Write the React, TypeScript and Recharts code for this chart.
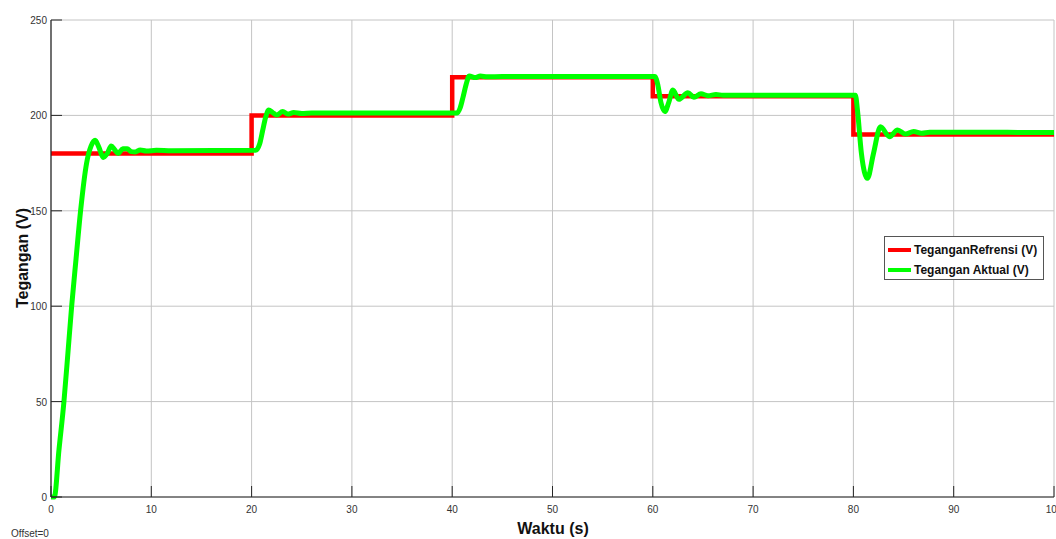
import React from "react";
import {
  LineChart,
  Line,
  XAxis,
  YAxis,
  CartesianGrid,
} from "recharts";

const xTicks = [0, 10, 20, 30, 40, 50, 60, 70, 80, 90, 100];
const yTicks = [0, 50, 100, 150, 200, 250];

const refTimes = [0, 20, 20, 40, 40, 60, 60, 80, 80, 100];
const refValues = [180, 180, 200, 200, 220, 220, 210, 210, 190, 190];

const actTimes = [
  0, 0.33, 0.8, 1.29, 1.68, 2.06, 2.5, 2.95, 3.55, 4.0, 4.4, 4.8, 5.2, 5.6, 6.0,
  6.35, 6.7, 7.15, 7.6, 8.0, 8.4, 8.9, 9.5, 10.5, 12, 20.4, 20.8, 21.1, 21.4,
  21.7, 22.1, 22.5, 23.1, 23.6, 24.2, 25, 26, 40.5, 40.8, 41.1, 41.4, 41.7,
  42.3, 42.8, 43.5, 45, 60.2, 60.5, 60.8, 61.2, 61.6, 62.0, 62.6, 63.5, 64.1,
  64.8, 65.5, 66.3, 67, 80.2, 80.4, 80.8, 81.4, 82.0, 82.7, 83.6, 84.4, 85.2,
  86.0, 86.8, 87.6, 100,
];
const actValues = [
  0, 0, 25, 50, 75, 100, 125, 150, 175, 184, 187, 183, 178, 180, 184, 182, 180,
  182.5, 182.5, 181, 180.8, 181.9, 181.3, 181.7, 181.5, 181.7, 185, 192, 199,
  202.8, 201.5, 200.2, 202, 200.7, 201.5, 201, 201.3, 201.3, 204, 210, 216.5,
  220.6, 219.8, 220.6, 220.2, 220.4, 220.4, 216, 207, 202, 207, 213.3, 208.4,
  211.9, 209.5, 211.3, 210.3, 210.9, 210.6, 210.6, 203, 180, 167, 180, 194,
  188.8, 192.3, 190.2, 191.6, 190.7, 191.2, 191,
];

const seriesNames = ["TeganganRefrensi (V)", "Tegangan Aktual (V)"];
const seriesColors = ["#ff0000", "#00ff00"];

const refData = refTimes.map((t, i) => ({ t, v: refValues[i] }));
const actData = actTimes.map((t, i) => ({ t, v: actValues[i] }));

const FONT = "'Liberation Sans', Arial, sans-serif";

const BottomTick = (props: any) => {
  const { x, y, payload } = props;
  return (
    <g>
      <line x1={x} y1={y} x2={x} y2={y - 11} stroke="#262626" strokeWidth={1} />
      <text x={x} y={y + 16} textAnchor="middle" fontSize={10} fontFamily={FONT} fill="#333">
        {payload.value}
      </text>
    </g>
  );
};

const TopTick = (props: any) => {
  const { x, y } = props;
  return <line x1={x} y1={y} x2={x} y2={y + 11} stroke="#262626" strokeWidth={1} />;
};

const LeftTick = (props: any) => {
  const { x, y, payload } = props;
  return (
    <g>
      <line x1={x} y1={y} x2={x + 11} y2={y} stroke="#262626" strokeWidth={1} />
      <text x={x - 4} y={y + 4} textAnchor="end" fontSize={10} fontFamily={FONT} fill="#333">
        {payload.value}
      </text>
    </g>
  );
};

const RightTick = (props: any) => {
  const { x, y } = props;
  return <line x1={x} y1={y} x2={x - 11} y2={y} stroke="#262626" strokeWidth={1} />;
};

const LegendBox = () => (
  <div
    style={{
      position: "absolute",
      left: 884,
      top: 236,
      width: 160,
      height: 44,
      background: "#fff",
      border: "1px solid #555",
      fontFamily: FONT,
      fontWeight: "bold",
      fontSize: 12,
      color: "#111",
      boxSizing: "border-box",
      padding: "4px 0 0 3px",
    }}
  >
    {seriesNames.map((n, i) => (
      <div key={n} style={{ display: "flex", alignItems: "center", height: 17, marginBottom: 3 }}>
        <div style={{ width: 23, height: 4, background: seriesColors[i], marginRight: 3 }} />
        <span>{n}</span>
      </div>
    ))}
  </div>
);

export default function App() {
  return (
    <div style={{ position: "absolute", left: 0, top: 0, width: 1056, height: 539, background: "#fff" }}>
      <LineChart
        width={1056}
        height={539}
        margin={{ top: 20, right: 2, bottom: 0, left: 0 }}
      >
        <CartesianGrid stroke="#c4c4c4" strokeWidth={1} />
        <XAxis
          xAxisId={0}
          dataKey="t"
          type="number"
          domain={[0, 100]}
          ticks={xTicks}
          allowDataOverflow
          height={42}
          tickSize={0}
          tickMargin={0}
          tickLine={false}
          axisLine={{ stroke: "#262626", strokeWidth: 1.2 }}
          tick={(p: any) => <BottomTick {...p} />}
          interval={0}
        />
        <XAxis
          xAxisId="top"
          orientation="top"
          dataKey="t"
          type="number"
          domain={[0, 100]}
          ticks={xTicks}
          height={0}
          tickSize={0}
          tickMargin={0}
          tickLine={false}
          axisLine={{ stroke: "#8a8a8a", strokeWidth: 2 }}
          tick={(p: any) => <TopTick {...p} />}
          interval={0}
        />
        <YAxis
          yAxisId={0}
          type="number"
          domain={[0, 250]}
          ticks={yTicks}
          width={51}
          tickSize={0}
          tickMargin={0}
          tickLine={false}
          axisLine={{ stroke: "#262626", strokeWidth: 1.2 }}
          tick={(p: any) => <LeftTick {...p} />}
          interval={0}
        />
        <YAxis
          yAxisId="right"
          orientation="right"
          type="number"
          domain={[0, 250]}
          ticks={yTicks}
          width={0}
          tickSize={0}
          tickMargin={0}
          tickLine={false}
          axisLine={{ stroke: "#262626", strokeWidth: 1.2 }}
          tick={(p: any) => <RightTick {...p} />}
          interval={0}
        />
        <Line
          data={refData}
          dataKey="v"
          name={seriesNames[0]}
          type="linear"
          stroke={seriesColors[0]}
          strokeWidth={4.5}
          dot={false}
          activeDot={false}
          isAnimationActive={false}
        />
        <Line
          data={actData}
          dataKey="v"
          name={seriesNames[1]}
          type="monotone"
          stroke={seriesColors[1]}
          strokeWidth={5}
          dot={false}
          activeDot={false}
          isAnimationActive={false}
        />
      </LineChart>
      <LegendBox />
      <svg
        width={1056}
        height={539}
        style={{ position: "absolute", left: 0, top: 0, pointerEvents: "none" }}
      >
        <text
          x={0}
          y={0}
          transform="translate(28,258) rotate(-90)"
          textAnchor="middle"
          fontFamily={FONT}
          fontWeight="bold"
          fontSize={16}
          fill="#111"
        >
          Tegangan (V)
        </text>
        <text
          x={553}
          y={534}
          textAnchor="middle"
          fontFamily={FONT}
          fontWeight="bold"
          fontSize={16}
          fill="#111"
        >
          Waktu (s)
        </text>
        <text x={11} y={537} fontFamily={FONT} fontSize={10} fill="#333">
          Offset=0
        </text>
      </svg>
    </div>
  );
}
